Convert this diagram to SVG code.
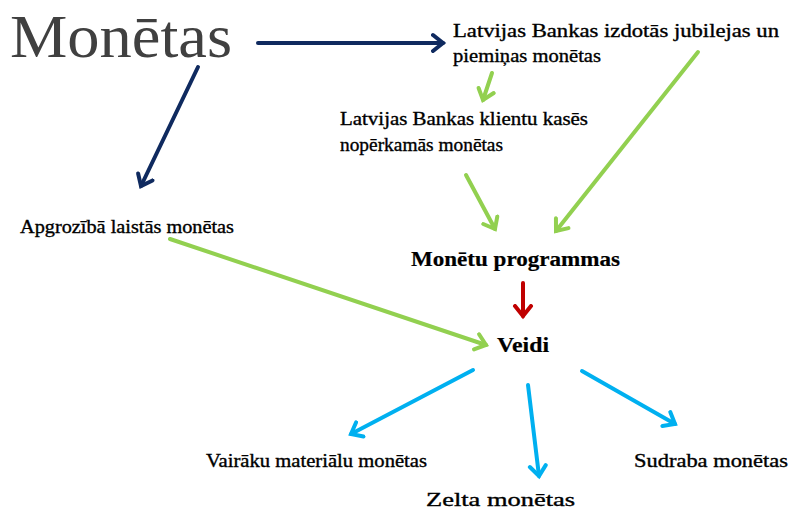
<svg xmlns="http://www.w3.org/2000/svg" width="790" height="511" viewBox="0 0 790 511">
<style>
.t{font-family:'Liberation Serif','Times New Roman',Times,serif;font-size:18px;fill:#000;stroke:#000;stroke-width:0.35px;}
.b{font-weight:bold;font-size:20px;stroke-width:0.2px;}
.big{font-family:'Liberation Serif','Times New Roman',Times,serif;font-size:62px;fill:#404040;}
.c{fill:none;stroke-width:4;stroke-linecap:round;}
</style>
<defs>
<marker id="mn" markerUnits="userSpaceOnUse" markerWidth="24" markerHeight="24" refX="12" refY="12" orient="auto" viewBox="0 0 24 24"><path d="M2,4 L12,12 L2,20" fill="none" stroke="#0f2a5f" stroke-width="4" stroke-linecap="round"/></marker>
<marker id="mg" markerUnits="userSpaceOnUse" markerWidth="24" markerHeight="24" refX="12" refY="12" orient="auto" viewBox="0 0 24 24"><path d="M2,4 L12,12 L2,20" fill="none" stroke="#92d050" stroke-width="4" stroke-linecap="round"/></marker>
<marker id="mr" markerUnits="userSpaceOnUse" markerWidth="24" markerHeight="24" refX="12" refY="12" orient="auto" viewBox="0 0 24 24"><path d="M2,4 L12,12 L2,20" fill="none" stroke="#c00000" stroke-width="4" stroke-linecap="round"/></marker>
<marker id="mb" markerUnits="userSpaceOnUse" markerWidth="24" markerHeight="24" refX="12" refY="12" orient="auto" viewBox="0 0 24 24"><path d="M2,4 L12,12 L2,20" fill="none" stroke="#00b0f0" stroke-width="4" stroke-linecap="round"/></marker>
</defs>
<rect width="790" height="511" fill="#fff"/>
<g id="connectors">
<line class="c" x1="258" y1="43" x2="443" y2="43" stroke="#0f2a5f" marker-end="url(#mn)"/>
<line class="c" x1="198" y1="67" x2="141" y2="186" stroke="#0f2a5f" marker-end="url(#mn)"/>
<line class="c" x1="492" y1="73" x2="483" y2="100" stroke="#92d050" marker-end="url(#mg)"/>
<line class="c" x1="698" y1="52" x2="556" y2="231" stroke="#92d050" marker-end="url(#mg)"/>
<line class="c" x1="466" y1="175" x2="495" y2="229" stroke="#92d050" marker-end="url(#mg)"/>
<line class="c" x1="170" y1="239" x2="486" y2="345" stroke="#92d050" marker-end="url(#mg)"/>
<line class="c" x1="523" y1="283" x2="523" y2="316" stroke="#c00000" marker-end="url(#mr)"/>
<line class="c" x1="473" y1="370" x2="351" y2="434" stroke="#00b0f0" marker-end="url(#mb)"/>
<line class="c" x1="528" y1="385" x2="539" y2="476" stroke="#00b0f0" marker-end="url(#mb)"/>
<line class="c" x1="582" y1="371" x2="675" y2="424" stroke="#00b0f0" marker-end="url(#mb)"/>
</g>
<g id="monetas"><text class="big" x="10" y="57" textLength="222" lengthAdjust="spacingAndGlyphs">Monētas</text></g>
<g id="jubilejas"><text class="t" x="453" y="37" textLength="326" lengthAdjust="spacingAndGlyphs">Latvijas Bankas izdotās jubilejas un</text><text class="t" x="453" y="62" textLength="148" lengthAdjust="spacingAndGlyphs">piemiņas monētas</text></g>
<g id="kases"><text class="t" x="340" y="125" textLength="248" lengthAdjust="spacingAndGlyphs">Latvijas Bankas klientu kasēs</text><text class="t" x="340" y="151" textLength="163" lengthAdjust="spacingAndGlyphs">nopērkamās monētas</text></g>
<g id="apgroziba"><text class="t" x="20" y="233" textLength="214" lengthAdjust="spacingAndGlyphs">Apgrozībā laistās monētas</text></g>
<g id="programmas"><text class="t b" x="411" y="266" textLength="209" lengthAdjust="spacingAndGlyphs">Monētu programmas</text></g>
<g id="veidi"><text class="t b" x="497" y="352" textLength="52" lengthAdjust="spacingAndGlyphs">Veidi</text></g>
<g id="vairaku"><text class="t" x="206" y="467" textLength="221" lengthAdjust="spacingAndGlyphs">Vairāku materiālu monētas</text></g>
<g id="zelta"><text class="t" x="426" y="506" textLength="149" lengthAdjust="spacingAndGlyphs">Zelta monētas</text></g>
<g id="sudraba"><text class="t" x="634" y="467" textLength="154" lengthAdjust="spacingAndGlyphs">Sudraba monētas</text></g>
</svg>
